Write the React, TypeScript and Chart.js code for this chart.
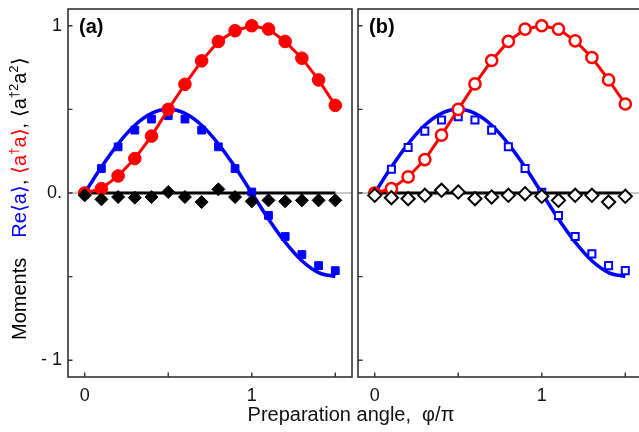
import React, { useEffect, useRef } from "react";
import { Chart, registerables } from "chart.js";

Chart.register(...registerables);

// ---------- data ----------
const angles = [0, 0.1, 0.2, 0.3, 0.4, 0.5, 0.6, 0.7, 0.8, 0.9, 1.0, 1.1, 1.2, 1.3, 1.4, 1.5];

// panel (a)
const aRe = [0, 0.146, 0.276, 0.376, 0.442, 0.462, 0.442, 0.376, 0.276, 0.146, 0.006, -0.134, -0.26, -0.368, -0.434, -0.464];
const aN = [0, 0.026, 0.102, 0.206, 0.34, 0.5, 0.65, 0.79, 0.906, 0.97, 1.0, 0.98, 0.906, 0.806, 0.676, 0.524];
const aG2 = [-0.014, -0.038, -0.024, -0.028, -0.024, 0.006, -0.024, -0.054, 0.022, -0.024, -0.05, -0.044, -0.05, -0.044, -0.044, -0.044];

// panel (b)
const bRe = [0, 0.142, 0.272, 0.37, 0.436, 0.456, 0.436, 0.376, 0.276, 0.146, 0.004, -0.134, -0.26, -0.364, -0.434, -0.464];
const bN = [0, 0.026, 0.096, 0.2, 0.346, 0.5, 0.652, 0.792, 0.906, 0.98, 1.0, 0.98, 0.91, 0.81, 0.676, 0.532];
const bG2 = [-0.014, -0.028, -0.034, -0.014, 0.016, 0.006, -0.034, -0.024, -0.014, -0.004, -0.02, -0.044, -0.014, -0.014, -0.054, -0.02];

// theory curve for Re<a>
const theoryRe = [0, 0.155, 0.294, 0.405, 0.476, 0.5, 0.476, 0.405, 0.294, 0.155, 0, -0.155, -0.294, -0.405, -0.476, -0.5];

// theory for <a†²a²>
const zeroLineX = [0, 1.5];
const zeroLineY = [0, 0];

const yTicks = [-1, -0.5, 0, 0.5, 1];
const yTickLabels = ["- 1", "", "0.", "", "1"];
const xTicks = [0, 0.5, 1, 1.5];
const xTickLabels = ["0", "", "1", ""];

const xTitle = "Preparation angle,  φ/π";

// ---------- styling ----------
const RED = "#ff0000";
const BLUE = "#0000ff";
const BLACK = "#000000";
const FRAME = "#333333";
const FONT = "'Liberation Sans', Arial, Helvetica, sans-serif";

const pts = (xs: number[], ys: number[]) => xs.map((x, i) => ({ x, y: ys[i] }));

type PanelCfg = {
  label: string;
  re: number[];
  n: number[];
  g2: number[];
  hollow: boolean;
  axisText: boolean;
  padding: { left: number; right: number; top: number; bottom: number };
};

function framePlugin(cfg: PanelCfg) {
  return {
    id: "frame_" + cfg.label,
    beforeDatasetsDraw(chart: any) {
      const { ctx, chartArea } = chart;
      const y0 = chart.scales.y.getPixelForValue(0);
      ctx.save();
      ctx.strokeStyle = "#c8c8c8";
      ctx.lineWidth = 2;
      ctx.beginPath();
      ctx.moveTo(chartArea.left, y0);
      ctx.lineTo(chartArea.right, y0);
      ctx.stroke();
      ctx.restore();
    },
    afterDatasetsDraw(chart: any) {
      const { ctx, chartArea } = chart;
      const xs = chart.scales.x;
      const ys = chart.scales.y;
      const { left, right, top, bottom } = chartArea;
      ctx.save();
      ctx.strokeStyle = FRAME;
      ctx.lineWidth = 1.6;
      ctx.strokeRect(left, top, right - left, bottom - top);

      // inward ticks
      ctx.lineWidth = 1.4;
      ctx.beginPath();
      yTicks.forEach((v) => {
        const py = ys.getPixelForValue(v);
        ctx.moveTo(left, py);
        ctx.lineTo(left + 4.5, py);
      });
      xTicks.forEach((v) => {
        const px = xs.getPixelForValue(v);
        ctx.moveTo(px, bottom);
        ctx.lineTo(px, bottom - 4.5);
      });
      ctx.stroke();

      ctx.fillStyle = "#111";
      ctx.font = `18px ${FONT}`;
      // x tick labels
      ctx.textAlign = "center";
      ctx.textBaseline = "top";
      xTicks.forEach((v, i) => {
        if (xTickLabels[i]) ctx.fillText(xTickLabels[i], xs.getPixelForValue(v), bottom + 10);
      });

      // panel label
      ctx.font = `bold 20px ${FONT}`;
      ctx.textAlign = "left";
      ctx.textBaseline = "alphabetic";
      ctx.fillStyle = BLACK;
      ctx.fillText(cfg.label, left + 11, top + 24);

      if (cfg.axisText) {
        // y tick labels
        ctx.font = `18px ${FONT}`;
        ctx.fillStyle = "#111";
        ctx.textAlign = "right";
        ctx.textBaseline = "middle";
        yTicks.forEach((v, i) => {
          if (yTickLabels[i]) ctx.fillText(yTickLabels[i], left - 6, ys.getPixelForValue(v));
        });

        // x title
        ctx.font = `20px ${FONT}`;
        ctx.textAlign = "center";
        ctx.textBaseline = "alphabetic";
        ctx.fillText(xTitle, 351, 421);

        // y title (rotated, multi-coloured)
        const segs: { t: string; c: string; sup?: boolean; gap?: number }[] = [
          { t: "Moments", c: BLACK },
          { t: "", c: BLACK, gap: 20 },
          { t: "Re⟨a⟩", c: BLUE },
          { t: ", ", c: BLACK },
          { t: "⟨a", c: RED },
          { t: "†", c: RED, sup: true },
          { t: "a⟩", c: RED },
          { t: ", ⟨a", c: BLACK },
          { t: "†2", c: BLACK, sup: true },
          { t: "a", c: BLACK },
          { t: "2", c: BLACK, sup: true },
          { t: "⟩", c: BLACK },
        ];
        ctx.save();
        ctx.translate(26, 196);
        ctx.rotate(-Math.PI / 2);
        ctx.textAlign = "left";
        ctx.textBaseline = "alphabetic";
        let x = -144;
        segs.forEach((s) => {
          if (s.gap) {
            x += s.gap;
            return;
          }
          ctx.font = s.sup ? `13px ${FONT}` : `20px ${FONT}`;
          ctx.fillStyle = s.c;
          ctx.fillText(s.t, x, s.sup ? -8 : 0);
          x += ctx.measureText(s.t).width;
        });
        ctx.restore();
      }
      ctx.restore();
    },
  };
}

function makeChart(canvas: HTMLCanvasElement, cfg: PanelCfg) {
  const h = cfg.hollow;
  return new Chart(canvas, {
    type: "scatter",
    data: {
      datasets: [
        {
          label: "g2",
          data: pts(angles, cfg.g2),
          showLine: false,
          pointStyle: "rectRot",
          pointRadius: h ? 6.6 : 6.5,
          backgroundColor: h ? "#ffffff" : BLACK,
          borderColor: BLACK,
          borderWidth: h ? 2 : 1,
          order: 0,
        },
        {
          label: "n",
          data: pts(angles, cfg.n),
          showLine: true,
          borderColor: RED,
          borderWidth: 3,
          pointStyle: "circle",
          pointRadius: h ? 5.6 : 6.3,
          pointBackgroundColor: h ? "#ffffff" : RED,
          pointBorderColor: RED,
          pointBorderWidth: h ? 2.5 : 1,
          backgroundColor: RED,
          tension: 0,
          order: 1,
        },
        {
          label: "re",
          data: pts(angles, cfg.re),
          showLine: false,
          pointStyle: "rect",
          pointRadius: h ? 5 : 5.5,
          backgroundColor: h ? "#ffffff" : BLUE,
          borderColor: BLUE,
          borderWidth: h ? 2 : 1,
          order: 2,
        },
        {
          label: "theoryRe",
          data: pts(angles, theoryRe),
          showLine: true,
          borderColor: BLUE,
          borderWidth: 3.5,
          pointRadius: 0,
          cubicInterpolationMode: "monotone",
          order: 3,
        },
        {
          label: "theoryG2",
          data: pts(zeroLineX, zeroLineY),
          showLine: true,
          borderColor: BLACK,
          borderWidth: 3,
          pointRadius: 0,
          order: 4,
        },
      ],
    },
    options: {
      responsive: false,
      animation: false,
      events: [],
      layout: { padding: cfg.padding },
      scales: {
        x: { type: "linear", min: -0.1, max: 1.6, display: false },
        y: { type: "linear", min: -1.1, max: 1.1, display: false },
      },
      plugins: { legend: { display: false }, tooltip: { enabled: false } },
    },
    plugins: [framePlugin(cfg)],
  } as any);
}

export default function App() {
  const leftRef = useRef<HTMLCanvasElement>(null);
  const rightRef = useRef<HTMLCanvasElement>(null);

  useEffect(() => {
    const c1 = makeChart(leftRef.current!, {
      label: "(a)",
      re: aRe,
      n: aN,
      g2: aG2,
      hollow: false,
      axisText: true,
      padding: { left: 68, right: 639 - 352, top: 9, bottom: 432 - 377 },
    });
    const c2 = makeChart(rightRef.current!, {
      label: "(b)",
      re: bRe,
      n: bN,
      g2: bG2,
      hollow: true,
      axisText: false,
      padding: { left: 358, right: 660 - 642, top: 9, bottom: 432 - 377 },
    });
    return () => {
      c1.destroy();
      c2.destroy();
    };
  }, []);

  return (
    <div
      style={{
        position: "fixed",
        left: 0,
        top: 0,
        width: 639,
        height: 432,
        overflow: "hidden",
        background: "#ffffff",
      }}
    >
      <canvas ref={leftRef} width={639} height={432} style={{ position: "absolute", left: 0, top: 0 }} />
      <canvas ref={rightRef} width={660} height={432} style={{ position: "absolute", left: 0, top: 0 }} />
    </div>
  );
}
